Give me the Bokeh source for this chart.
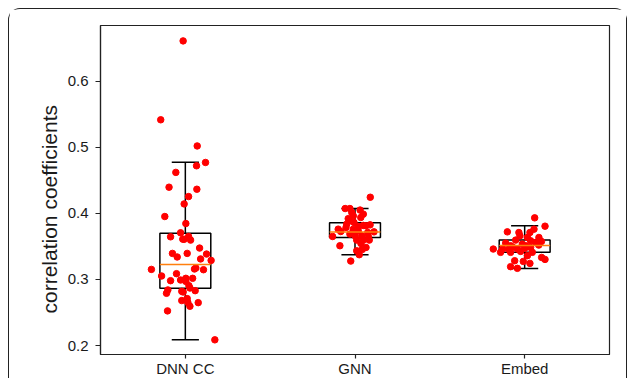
from bokeh.plotting import figure
from bokeh.models import Range1d, FixedTicker, ColumnDataSource, PrintfTickFormatter, Title
from bokeh.embed import file_html
from bokeh.resources import INLINE

categories = ["DNN CC", "GNN", "Embed"]
y_title = "correlation coefficients"

# box statistics
q1 = [0.2866, 0.3635, 0.3410]
median = [0.3227, 0.3716, 0.3515]
q3 = [0.3700, 0.3857, 0.3595]
whisker_low = [0.2086, 0.3374, 0.3167]
whisker_high = [0.4773, 0.4073, 0.3811]

# individual points (value, horizontal jitter in category units)
dnn_values = [0.661, 0.5416, 0.502, 0.477, 0.472, 0.462, 0.4396, 0.4365, 0.4254, 0.4143,
              0.3952, 0.3846, 0.3706, 0.3645, 0.361, 0.3607, 0.3650, 0.3595, 0.3475, 0.3394,
              0.3394, 0.334, 0.3384, 0.331, 0.3288, 0.3152, 0.3173, 0.3158, 0.3147, 0.3087,
              0.3052, 0.2981, 0.2991, 0.3017, 0.297, 0.3017, 0.2906, 0.287, 0.2841, 0.279,
              0.282, 0.281, 0.283, 0.268, 0.271, 0.265, 0.2594, 0.2649, 0.2524, 0.2086]
dnn_jitter = [-0.013, -0.145, 0.070, 0.119, 0.066, -0.056, -0.096, 0.068, 0.019, -0.007,
              -0.121, 0.003, -0.028, -0.087, -0.015, -0.007, 0.019, 0.031, 0.084, -0.076,
              0.011, -0.048, 0.125, 0.090, 0.152, -0.200, 0.062, 0.054, 0.107, -0.052,
              -0.140, -0.087, -0.028, 0.003, 0.003, 0.043, 0.021, 0.027, -0.103, -0.111,
              -0.021, -0.013, 0.058, -0.021, 0.011, 0.015, 0.027, 0.076, -0.105, 0.174]

gnn_values = [0.4244, 0.4073, 0.4073, 0.405, 0.4013, 0.3988, 0.3962, 0.3937, 0.3887, 0.3862,
              0.3837, 0.3817, 0.3826, 0.3811, 0.3786, 0.3761, 0.3761, 0.3725, 0.3736, 0.371,
              0.372, 0.3686, 0.365, 0.366, 0.366, 0.3645, 0.3595, 0.3595, 0.3595, 0.3545,
              0.351, 0.3484, 0.3454, 0.3434, 0.3374, 0.3278, 0.3920, 0.3800]
gnn_jitter = [0.090, -0.058, -0.030, 0.030, -0.019, 0.049, -0.010, 0.034, -0.030, -0.006,
              -0.049, 0.049, 0.089, 0.065, -0.053, -0.099, -0.010, -0.084, 0.019, 0.075,
              0.112, -0.030, -0.132, 0.000, 0.040, 0.079, 0.010, 0.049, 0.084, 0.035,
              -0.089, 0.065, 0.043, 0.010, 0.025, -0.025, -0.040, 0.020]

embed_values = [0.3932, 0.3806, 0.372, 0.371, 0.371, 0.3761, 0.366, 0.3635, 0.3635, 0.3595,
                0.3585, 0.3575, 0.355, 0.3535, 0.356, 0.351, 0.351, 0.346, 0.346, 0.346,
                0.3484, 0.341, 0.341, 0.3424, 0.341, 0.336, 0.3333, 0.3303, 0.3283, 0.3273,
                0.3243, 0.3193, 0.3168, 0.349, 0.352, 0.347, 0.3455]
embed_jitter = [0.059, 0.120, -0.102, -0.034, 0.031, 0.055, -0.028, 0.084, 0.016, -0.053,
                0.035, 0.099, -0.112, -0.014, 0.065, -0.083, 0.006, -0.130, -0.185, -0.043,
                0.035, -0.142, -0.083, -0.024, 0.045, 0.016, 0.100, 0.120, -0.059, -0.008,
                0.031, -0.083, -0.043, -0.071, 0.083, 0.000, -0.094]

y_ticks = [0.2, 0.3, 0.4, 0.5, 0.6]

FONT = "Liberation Sans"
TEXT = "#1a1a1a"

p = figure(width=619, height=370, x_range=Range1d(0.5, 3.5), y_range=Range1d(0.1864, 0.6843),
           output_backend="svg", toolbar_location=None,
           min_border_left=91, min_border_right=19, min_border_top=16, min_border_bottom=25)
p.styles = {"margin-left": "8px", "margin-top": "8px",
            "border-top": "1px solid #222", "border-left": "1px solid #222",
            "border-right": "1px solid #222", "border-top-left-radius": "12px",
            "border-top-right-radius": "12px"}

pos = [i + 1 for i in range(len(categories))]
half_box = 0.15
half_cap = 0.08

box_src = ColumnDataSource(dict(
    x=pos,
    left=[x - half_box for x in pos], right=[x + half_box for x in pos],
    cl=[x - half_cap for x in pos], cr=[x + half_cap for x in pos],
    q1=q1, q3=q3, med=median, lo=whisker_low, hi=whisker_high))

p.segment(x0="x", y0="q3", x1="x", y1="hi", source=box_src, line_color="black", line_width=1.5)
p.segment(x0="x", y0="q1", x1="x", y1="lo", source=box_src, line_color="black", line_width=1.5)
p.segment(x0="cl", y0="hi", x1="cr", y1="hi", source=box_src, line_color="black", line_width=1.5)
p.segment(x0="cl", y0="lo", x1="cr", y1="lo", source=box_src, line_color="black", line_width=1.5)
p.quad(left="left", right="right", bottom="q1", top="q3", source=box_src,
       fill_color=None, line_color="black", line_width=1.5)

for k, (vals, jit) in enumerate([(dnn_values, dnn_jitter), (gnn_values, gnn_jitter),
                                 (embed_values, embed_jitter)]):
    xs = [pos[k] + j for j in jit]
    p.scatter(x=xs, y=vals, size=6.5, color="#ff0000", line_color="#ff0000")

p.segment(x0="left", y0="med", x1="right", y1="med", source=box_src,
          line_color="#ff7f0e", line_width=1.5)

p.xgrid.grid_line_color = None
p.ygrid.grid_line_color = None
p.outline_line_color = "#222222"
p.outline_line_width = 1.2

p.xaxis.ticker = FixedTicker(ticks=pos)
p.xaxis.major_label_overrides = {x: c for x, c in zip(pos, categories)}
p.yaxis.ticker = FixedTicker(ticks=y_ticks)
p.yaxis.formatter = PrintfTickFormatter(format="%.1f")

for ax in (p.xaxis[0], p.yaxis[0]):
    ax.axis_line_color = "#222222"
    ax.axis_line_width = 1.2
    ax.major_tick_line_color = "#222222"
    ax.major_tick_line_width = 1.2
    ax.major_tick_in = 0
    ax.minor_tick_line_color = None
    ax.major_label_text_font = FONT
    ax.major_label_text_font_size = "15px"
    ax.major_label_text_color = TEXT

p.xaxis.major_tick_out = 4
p.yaxis.major_tick_out = 5
p.xaxis.major_label_standoff = 1
p.yaxis.major_label_standoff = 7

# y-axis title: anchored from the bottom of the left panel, as placed in the reference
p.add_layout(Title(text=y_title, align="left", offset=41, standoff=8,
                   text_font=FONT, text_font_size="21px", text_font_style="normal",
                   text_color=TEXT), "left")

open("out.html", "w").write(file_html(p, INLINE))
